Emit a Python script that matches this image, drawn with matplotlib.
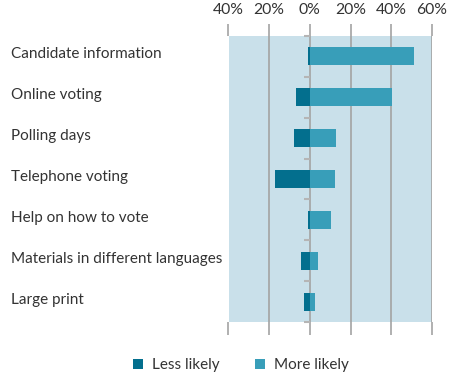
import matplotlib.pyplot as plt
from matplotlib.transforms import blended_transform_factory
from matplotlib.ticker import FuncFormatter

# Ações que tornariam o eleitor mais / menos propenso a votar (%)
categorias = ["Candidate information", "Online voting", "Polling days",
              "Telephone voting", "Help on how to vote",
              "Materials in different languages", "Large print"]
menos_provavel = [-1, -7, -8, -17, -1, -4.5, -3]
mais_provavel = [51, 40.5, 13, 12.5, 10.5, 4, 2.5]
ticks_x = [-40, -20, 0, 20, 40, 60]

cor_menos = "#036f8e"
cor_mais = "#389eb9"
cor_fundo = "#c9e0ea"
cor_grade = "#a3a3a3"
cor_texto = "#333333"

plt.rcParams["font.family"] = ["Lato", "DejaVu Sans"]

fig = plt.figure(figsize=(4.55, 3.74), dpi=100)
ax = fig.add_axes([228.5 / 455, 1 - 322 / 374, (432 - 228.5) / 455, (322 - 36) / 374])
ax.set_facecolor(cor_fundo)

y = list(range(len(categorias)))
b1 = ax.barh(y, menos_provavel, height=0.44, color=cor_menos, zorder=3, label="Less likely")
b2 = ax.barh(y, mais_provavel, height=0.44, color=cor_mais, zorder=3, label="More likely")

ax.set_xlim(-40, 60)
ax.set_ylim(len(categorias) - 0.5, -0.5)

# grade vertical com as marcas saindo para cima e para baixo
ax.set_xticks(ticks_x)
ax.xaxis.set_major_formatter(FuncFormatter(lambda v, p: f"{abs(v):.0f}%"))
ax.grid(axis="x", color=cor_grade, linewidth=1.2, zorder=1)
ax.tick_params(axis="x", which="both", top=True, bottom=True, labeltop=True,
               labelbottom=False, length=9, width=1.2, color=cor_grade,
               labelsize=11.3, labelcolor=cor_texto, pad=5)

# pequenas marcas no eixo zero entre as categorias
ax.spines["left"].set_position(("data", 0))
ax.spines["left"].set_visible(False)
ax.set_yticks([i + 0.5 for i in range(-1, len(categorias))])
ax.yaxis.set_ticklabels([])
ax.tick_params(axis="y", length=4, width=1.5, color="#b5b5b5", direction="out")
for lado in ["right", "top", "bottom"]:
    ax.spines[lado].set_visible(False)

trans = blended_transform_factory(fig.transFigure, ax.transData)
for i, nome in enumerate(categorias):
    ax.text(11 / 455, i - 0.05, nome, transform=trans, ha="left", va="center",
            fontsize=11, color=cor_texto)

fig.legend(handles=[b1, b2], loc="center", bbox_to_anchor=(241 / 455, 1 - 365 / 374),
           ncol=2, frameon=False, fontsize=11, labelcolor=cor_texto,
           handlelength=0.65, handleheight=0.65, handletextpad=0.6, columnspacing=2.3)

fig.savefig("out.png", dpi=100)
